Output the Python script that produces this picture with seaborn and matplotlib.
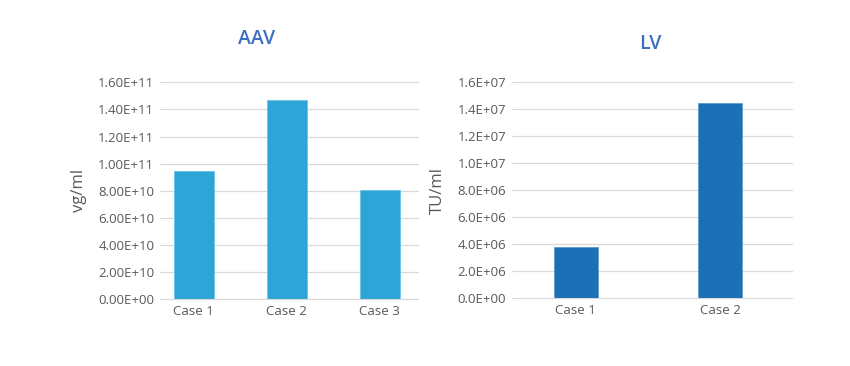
import pandas as pd
import matplotlib
matplotlib.use("Agg")
import matplotlib.pyplot as plt
from matplotlib.ticker import FuncFormatter, MultipleLocator
import seaborn as sns

# data
aav_cases = ["Case 1", "Case 2", "Case 3"]
aav_titer = [9.5e10, 1.47e11, 8.05e10]
lv_cases = ["Case 1", "Case 2"]
lv_titer = [3.82e6, 1.45e7]

sns.set_style("white")
plt.rcParams['font.family'] = ['Open Sans', 'DejaVu Sans']

grey = "#595959"
grid = "#D9D9D9"

fig = plt.figure(figsize=(8.5, 3.66), dpi=100)
ax1 = fig.add_axes([0.188, 0.182, 0.3035, 0.593])
ax2 = fig.add_axes([0.602, 0.185, 0.3294, 0.590])

aav = pd.DataFrame({"case": aav_cases, "titer": aav_titer})
lv = pd.DataFrame({"case": lv_cases, "titer": lv_titer})

sns.barplot(data=aav, x="case", y="titer", color="#2EA5D6", saturation=1,
            width=0.43, edgecolor="#6CC3E6", linewidth=0.6, ax=ax1, zorder=3)
sns.barplot(data=lv, x="case", y="titer", color="#1E70B6", saturation=1,
            width=0.31, edgecolor="#5C9BD1", linewidth=0.6, ax=ax2, zorder=3)

# 1. AAV panel
ax1.set_ylim(0, 1.6e11)
ax1.set_xlim(-0.366, 2.41)
ax1.yaxis.set_major_locator(MultipleLocator(2e10))
ax1.yaxis.set_major_formatter(FuncFormatter(lambda v, p: f"{v:.2E}"))
ax1.set_ylabel("vg/ml", fontsize=12, color=grey, labelpad=8)

# 2. LV panel
ax2.set_ylim(0, 1.6e7)
ax2.set_xlim(-0.445, 1.497)
ax2.yaxis.set_major_locator(MultipleLocator(2e6))
ax2.yaxis.set_major_formatter(FuncFormatter(lambda v, p: f"{v:.1E}"))
ax2.set_ylabel("TU/ml", fontsize=12, color=grey, labelpad=8)

for ax in (ax1, ax2):
    ax.set_xlabel("")
    ax.grid(axis="y", color=grid, linewidth=0.9, zorder=0)
    ax.set_axisbelow(True)
    for g in ax.get_ygridlines():
        g.set_clip_on(False)
    sns.despine(ax=ax, left=True, bottom=True)
    ax.tick_params(axis="both", length=0, labelsize=9.5, colors=grey, pad=4)

fig.text(0.302, 0.893, "AAV", fontsize=14, color="#3B6FC1", fontweight="semibold",
         ha="center", va="center")
fig.text(0.765, 0.880, "LV", fontsize=14, color="#3B6FC1", fontweight="semibold",
         ha="center", va="center")

plt.savefig("out.png", dpi=100)
